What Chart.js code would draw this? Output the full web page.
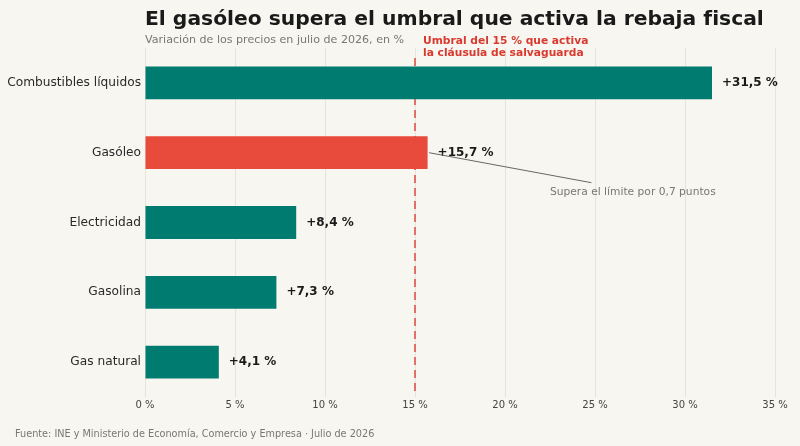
<!DOCTYPE html>
<html lang="es">
<head>
<meta charset="utf-8">
<title>El gasóleo supera el umbral</title>
<script src="https://cdn.jsdelivr.net/npm/chart.js@4/dist/chart.umd.min.js"></script>
<style>
  html, body { margin: 0; padding: 0; background: #f8f6f1; }
  #wrap { width: 800px; height: 446px; position: relative; }
</style>
</head>
<body>
<div id="wrap"><canvas id="chart"></canvas></div>
<script>
// Datos
const categories = ['Combustibles líquidos', 'Gasóleo', 'Electricidad', 'Gasolina', 'Gas natural'];
const values = [31.5, 15.7, 8.4, 7.3, 4.1];
const xTicks = [0, 5, 10, 15, 20, 25, 30, 35];
const threshold = 15;

const TEAL = '#007b70';
const RED = '#e84b3c';
const FONT = '"DejaVu Sans", sans-serif';

const fmt = v => '+' + v.toFixed(1).replace('.', ',') + ' %';

// Línea del umbral (debajo de las barras)
const thresholdLine = {
    id: 'thresholdLine',
    beforeDatasetsDraw(chart) {
        const { ctx, chartArea, scales } = chart;
        const x = scales.x.getPixelForValue(threshold);
        ctx.save();
        ctx.strokeStyle = 'rgba(224, 90, 80, 0.85)';
        ctx.lineWidth = 2;
        ctx.setLineDash([8, 5]);
        ctx.beginPath();
        ctx.moveTo(x, chartArea.top + 10);
        ctx.lineTo(x, chartArea.bottom - 2);
        ctx.stroke();
        ctx.restore();
    }
};

// Textos, etiquetas de valor y anotación
const textLayer = {
    id: 'textLayer',
    afterDatasetsDraw(chart) {
        const { ctx, chartArea, scales } = chart;
        const meta = chart.getDatasetMeta(0);
        ctx.save();

        // etiquetas de valor
        ctx.font = 'bold 12px ' + FONT;
        ctx.fillStyle = '#1a1a1a';
        ctx.textBaseline = 'middle';
        ctx.textAlign = 'left';
        meta.data.forEach((bar, i) => {
            ctx.fillText(fmt(values[i]), bar.x + 10, bar.y);
        });

        // anotación del gasóleo
        const y1 = scales.y.getPixelForValue(1);
        const gap = scales.y.getPixelForValue(2) - y1;
        ctx.strokeStyle = '#666';
        ctx.lineWidth = 1;
        ctx.beginPath();
        ctx.moveTo(scales.x.getPixelForValue(values[1]) + 1.5, y1);
        ctx.lineTo(scales.x.getPixelForValue(24.8), y1 + gap * 0.43);
        ctx.stroke();
        ctx.font = '10.7px ' + FONT;
        ctx.fillStyle = '#777';
        ctx.textAlign = 'center';
        ctx.fillText('Supera el límite por 0,7 puntos', scales.x.getPixelForValue(27.1), y1 + gap * 0.56);

        // texto del umbral
        const xt = scales.x.getPixelForValue(threshold) + 8;
        ctx.font = 'bold 10.7px ' + FONT;
        ctx.fillStyle = '#d93a2f';
        ctx.textAlign = 'left';
        ctx.fillText('Umbral del 15 % que activa', xt, 41);
        ctx.fillText('la cláusula de salvaguarda', xt, 53);

        // título, subtítulo y fuente
        ctx.textBaseline = 'alphabetic';
        ctx.font = 'bold 20.3px ' + FONT;
        ctx.fillStyle = '#1a1a1a';
        ctx.fillText('El gasóleo supera el umbral que activa la rebaja fiscal', chartArea.left, 25);
        ctx.font = '11.1px ' + FONT;
        ctx.fillStyle = '#777';
        ctx.fillText('Variación de los precios en julio de 2026, en %', chartArea.left, 43);
        ctx.font = '9.7px ' + FONT;
        ctx.fillStyle = '#777';
        ctx.fillText('Fuente: INE y Ministerio de Economía, Comercio y Empresa · Julio de 2026', 15, 437);
        ctx.restore();
    }
};

new Chart(document.getElementById('chart'), {
    type: 'bar',
    data: {
        labels: categories,
        datasets: [{
            data: values,
            backgroundColor: values.map((v, i) => i === 1 ? RED : TEAL),
            barPercentage: 0.47,
            categoryPercentage: 1
        }]
    },
    options: {
        indexAxis: 'y',
        responsive: true,
        maintainAspectRatio: false,
        animation: false,
        layout: { padding: { top: 48, right: 25, bottom: 0, left: 0 } },
        plugins: {
            legend: { display: false },
            tooltip: { enabled: false }
        },
        scales: {
            x: {
                min: 0,
                max: 35,
                afterBuildTicks: axis => { axis.ticks = xTicks.map(v => ({ value: v })); },
                afterFit: axis => { axis.height = 49; },
                grid: { color: '#e6e3dc', lineWidth: 1, drawTicks: false },
                border: { display: false },
                ticks: {
                    padding: 2,
                    color: '#444',
                    font: { family: FONT, size: 10 },
                    callback: v => v + ' %'
                }
            },
            y: {
                afterFit: axis => { axis.width = 145; },
                grid: { display: false, drawTicks: false },
                border: { display: false },
                ticks: {
                    padding: 4,
                    color: '#2a2a2a',
                    font: { family: FONT, size: 12.2 }
                }
            }
        }
    },
    plugins: [thresholdLine, textLayer]
});
</script>
</body>
</html>
